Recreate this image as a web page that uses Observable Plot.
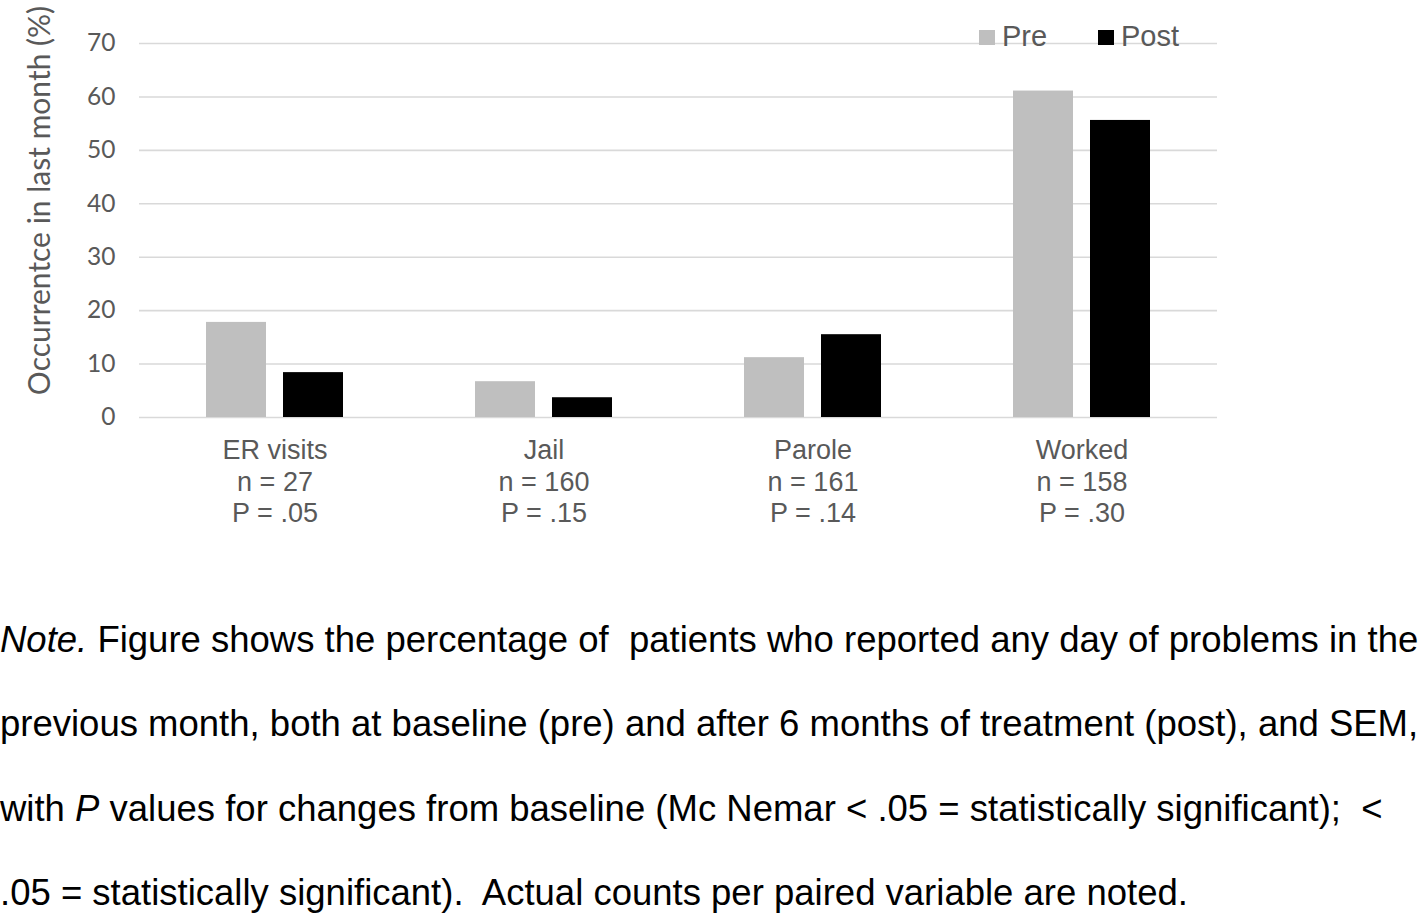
<!DOCTYPE html>
<html>
<head>
<meta charset="utf-8">
<script src="https://cdn.jsdelivr.net/npm/d3@7"></script>
<script src="https://cdn.jsdelivr.net/npm/@observablehq/plot@0.6"></script>
<style>
  html, body { margin: 0; padding: 0; background: #fff; }
  #wrap { position: relative; width: 1418px; height: 914px; overflow: hidden; }
  #chart { position: absolute; left: 0; top: 0; }
  .legend { position: absolute; top: 0; left: 0; font-family: "Liberation Sans", Arial, sans-serif; font-size: 29px; color: #595959; }
  .legend .sw { position: absolute; width: 16px; height: 15px; }
  .legend .lb { position: absolute; line-height: 1; white-space: nowrap; }
  #note { position: absolute; left: 0; top: 598px; font-family: "Liberation Sans", Arial, sans-serif; font-size: 36.5px; line-height: 84.3px; color: #000; white-space: pre; }
</style>
</head>
<body>
<div id="wrap">
  <div id="chart"></div>
  <div class="legend">
    <div class="sw" style="left:979px; top:30px; background:#bfbfbf"></div>
    <div class="lb" style="left:1002px; top:22px">Pre</div>
    <div class="sw" style="left:1098px; top:30px; background:#000"></div>
    <div class="lb" style="left:1121px; top:22px">Post</div>
  </div>
  <div id="note"><i>Note.</i> Figure shows the percentage of  patients who reported any day of problems in the<br>previous month, both at baseline (pre) and after 6 months of treatment (post), and SEM,<br>with <i>P</i> values for changes from baseline (Mc Nemar &lt; .05 = statistically significant);  &lt;<br>.05 = statistically significant).  Actual counts per paired variable are noted.</div>
</div>
<script>
const categories = ["ER visits", "Jail", "Parole", "Worked"];
const nLabels = ["n = 27", "n = 160", "n = 161", "n = 158"];
const pLabels = ["P = .05", "P = .15", "P = .14", "P = .30"];
const preValues = [17.8, 6.7, 11.2, 61.1];
const postValues = [8.4, 3.7, 15.5, 55.6];
const yTicks = [0, 10, 20, 30, 40, 50, 60, 70];
const yLabel = "Occurrentce in last month (%)";

const preData = categories.map((c, i) => ({category: c, value: preValues[i]}));
const postData = categories.map((c, i) => ({category: c, value: postValues[i]}));

const chart = Plot.plot({
  width: 1418,
  height: 560,
  marginLeft: 139,
  marginRight: 201,
  marginTop: 43,
  marginBottom: 143,
  style: {color: "#595959", background: "transparent", overflow: "visible"},
  x: {domain: categories, paddingInner: 0.49, paddingOuter: 0.245},
  y: {domain: [0, 70]},
  marks: [
    Plot.gridY(yTicks, {stroke: "#d9d9d9", strokeOpacity: 1, strokeWidth: 1.6}),
    Plot.barY(preData, {x: "category", y: "value", fill: "#bfbfbf", insetRight: 77}),
    Plot.barY(postData, {x: "category", y: "value", fill: "#000000", insetLeft: 77}),
    Plot.axisY({ticks: yTicks, tickSize: 0, tickPadding: 24, fontSize: 24.5, fontFamily: "Lato, sans-serif", label: null}),
    Plot.axisX({
      tickSize: 0, tickPadding: 19, fontSize: 27, fontFamily: "Liberation Sans, Arial, sans-serif", label: null,
      lineHeight: 1.17,
      tickFormat: (d) => { const i = categories.indexOf(d); return d + "\n" + nLabels[i] + "\n" + pLabels[i]; }
    }),
    Plot.text([yLabel], {text: (d) => d, frameAnchor: "left", textAnchor: "middle", rotate: -90, dx: -99, dy: -30, fontSize: 30, fontFamily: "Lato, sans-serif", fill: "#595959"})
  ]
});
document.getElementById("chart").appendChild(chart);
</script>
</body>
</html>
